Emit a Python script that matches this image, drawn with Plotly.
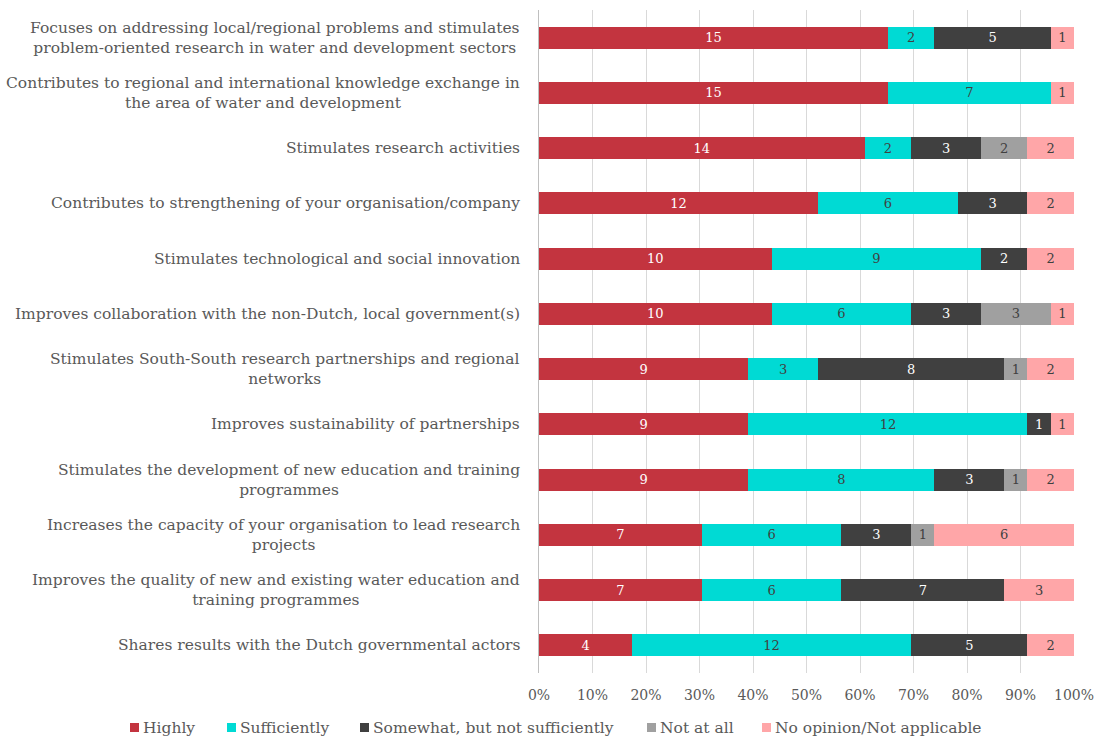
import plotly.graph_objects as go

# Survey statements (top to bottom) and the number of respondents per answer
statements = [
    "Focuses on addressing local/regional problems and stimulates<br>problem-oriented research in water and development sectors",
    "Contributes to regional and international knowledge exchange in<br>the area of water and development",
    "Stimulates research activities",
    "Contributes to strengthening of your organisation/company",
    "Stimulates technological and social innovation",
    "Improves collaboration with the non-Dutch, local government(s)",
    "Stimulates South-South research partnerships and regional<br>networks",
    "Improves sustainability of partnerships",
    "Stimulates the development of new education and training<br>programmes",
    "Increases the capacity of your organisation to lead research<br>projects",
    "Improves the quality of new and existing water education and<br>training programmes",
    "Shares results with the Dutch governmental actors",
]

highly =       [15, 15, 14, 12, 10, 10, 9, 9, 9, 7, 7, 4]
sufficiently = [2, 7, 2, 6, 9, 6, 3, 12, 8, 6, 6, 12]
somewhat =     [5, 0, 3, 3, 2, 3, 8, 1, 3, 3, 7, 5]
not_at_all =   [0, 0, 2, 0, 0, 3, 1, 0, 1, 1, 0, 0]
no_opinion =   [1, 1, 2, 2, 2, 1, 2, 1, 2, 6, 3, 2]

series_names = ["Highly", "Sufficiently", "Somewhat, but not sufficiently",
                "Not at all", "No opinion/Not applicable"]
series_values = [highly, sufficiently, somewhat, not_at_all, no_opinion]
series_colors = ["#C3343F", "#00DAD4", "#404040", "#A0A0A0", "#FFA6A8"]
label_colors = ["#FFFFFF", "#404040", "#FFFFFF", "#404040", "#404040"]

tick_vals = [0, 10, 20, 30, 40, 50, 60, 70, 80, 90, 100]
tick_text = ["0%", "10%", "20%", "30%", "40%", "50%", "60%", "70%", "80%", "90%", "100%"]

FONT = "DejaVu Serif"
TEXT_GREY = "#595959"

W, H = 1098, 738
M_L, M_R, M_T, M_B = 539, 24, 10, 65
PLOT_W = W - M_L - M_R
PLOT_H = H - M_T - M_B


def px_to_paper_x(px):
    return (px - M_L) / PLOT_W


def px_to_paper_y(py):
    return (H - M_B - py) / PLOT_H


fig = go.Figure()
for name, vals, col, lcol in zip(series_names, series_values, series_colors, label_colors):
    fig.add_trace(go.Bar(
        name=name,
        y=statements,
        x=vals,
        orientation="h",
        marker=dict(color=col, line=dict(width=0)),
        text=[str(v) if v else "" for v in vals],
        textposition="inside",
        insidetextanchor="middle",
        textangle=0,
        textfont=dict(family=FONT, size=13, color=lcol),
        width=0.4,
        hoverinfo="skip",
        showlegend=False,
    ))

# Category labels: right-aligned block, lines centred within each block
for s in statements:
    fig.add_annotation(
        x=px_to_paper_x(522), xref="paper", y=s, yref="y",
        text=s, showarrow=False, xanchor="right", yanchor="middle",
        align="center",
        font=dict(family=FONT, size=15.5, color=TEXT_GREY),
    )

# Legend row under the axis: small colour square followed by the series name
legend_x = [130, 227, 360, 647, 762]
legend_y = 728
for lx, name, col in zip(legend_x, series_names, series_colors):
    fig.add_shape(
        type="rect", xref="paper", yref="paper",
        x0=px_to_paper_x(lx), x1=px_to_paper_x(lx + 9),
        y0=px_to_paper_y(legend_y + 4), y1=px_to_paper_y(legend_y - 5),
        fillcolor=col, line=dict(width=0),
    )
    fig.add_annotation(
        x=px_to_paper_x(lx + 11), xref="paper",
        y=px_to_paper_y(legend_y), yref="paper",
        text=name, showarrow=False, xanchor="left", yanchor="middle",
        font=dict(family=FONT, size=15.5, color=TEXT_GREY),
    )

fig.update_layout(
    barmode="stack",
    barnorm="percent",
    width=W, height=H,
    margin=dict(l=M_L, r=M_R, t=M_T, b=M_B, autoexpand=False),
    paper_bgcolor="white",
    plot_bgcolor="white",
    showlegend=False,
    xaxis=dict(
        range=[0, 100],
        tickvals=tick_vals,
        ticktext=tick_text,
        showgrid=True,
        gridcolor="#D9D9D9",
        gridwidth=1,
        zeroline=False,
        showline=False,
        ticks="",
        ticklabelstandoff=12,
        tickfont=dict(family=FONT, size=14, color=TEXT_GREY),
        automargin=False,
        fixedrange=True,
    ),
    yaxis=dict(
        autorange="reversed",
        showticklabels=False,
        showgrid=False,
        zeroline=False,
        showline=True,
        linecolor="#BFBFBF",
        ticks="",
        automargin=False,
        fixedrange=True,
    ),
)

fig.write_html("out.html")
